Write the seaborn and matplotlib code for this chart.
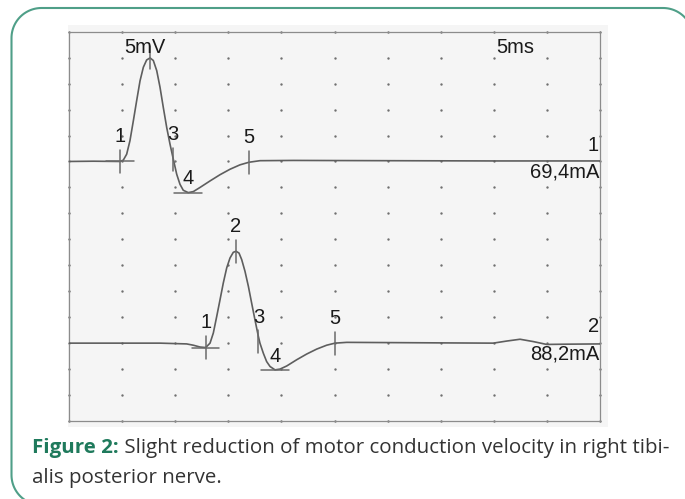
import numpy as np
import pandas as pd
import seaborn as sns
import matplotlib.pyplot as plt
from matplotlib.patches import Rectangle
from matplotlib.lines import Line2D
from matplotlib.transforms import IdentityTransform

# Trace 1 (69,4 mA): time in ms, amplitude in divisions (5 mV/div) from baseline
t1_ms = [0, 2.29, 4.80, 5.11, 5.43, 5.74, 6.06, 6.37, 6.69, 7.00, 7.31, 7.63, 7.94,
         8.26, 8.57, 8.88, 9.20, 9.51, 9.82, 10.14, 10.45, 10.76, 11.23, 11.71, 12.34,
         13.28, 14.22, 15.16, 16.10, 16.95, 17.98, 21.12, 30.0, 40.0, 50.0]
a1_div = [0, 0.01, 0, 0.05, 0.28, 0.80, 1.57, 2.34, 3.11, 3.63, 3.91, 3.99, 3.89,
          3.50, 2.86, 2.08, 1.31, 0.67, 0.09, -0.49, -0.88, -1.11, -1.20, -1.16, -1.00,
          -0.75, -0.51, -0.30, -0.13, -0.03, 0.03, 0.04, 0.03, 0.02, 0.02]

# Trace 2 (88,2 mA)
t2_ms = [0, 8.57, 11.08, 11.71, 12.34, 12.87, 13.28, 13.59, 13.91, 14.22, 14.53, 14.85,
         15.16, 15.47, 15.73, 16.01, 16.26, 16.57, 16.89, 17.20, 17.51, 17.83, 17.98,
         18.30, 18.61, 18.93, 19.40, 19.87, 20.50, 21.44, 22.38, 23.32, 24.26, 25.05,
         26.15, 34.93, 39.95, 41.21, 42.47, 43.72, 44.98, 46.86, 50.0]
a2_div = [0, 0, -0.03, -0.08, -0.15, -0.17, 0, 0.39, 1.03, 1.67, 2.32, 2.90,
          3.28, 3.50, 3.54, 3.47, 3.22, 2.77, 2.19, 1.54, 0.90, 0.26, 0,
          -0.39, -0.71, -0.90, -1.03, -1.00, -0.88, -0.64, -0.42, -0.23, -0.08, 0,
          0.03, 0.01, 0, 0.08, 0.15, 0.06, -0.05, -0.04, -0.03]

# cursor markers 1..5 (time ms, amplitude div)
m1_ms = [4.80, 7.63, 9.82, 11.23, 16.95]
m1_div = [0, 3.99, 0.09, -1.20, -0.03]
m2_ms = [12.87, 15.73, 17.83, 19.40, 25.05]
m2_div = [-0.17, 3.54, 0.05, -1.03, 0]
marker_labels1 = ['1', None, '3', '4', '5']
marker_labels2 = ['1', '2', '3', '4', '5']

baselines = [10, 3]
trace_ids = ['1', '2']
stim = ['69,4mA', '88,2mA']

caption_head = 'Figure 2:'
caption_line1 = ' Slight reduction of motor conduction velocity in right tibi-'
caption_line2 = 'alis posterior nerve.'

df = pd.concat([
    pd.DataFrame({'t': t1_ms, 'v': np.array(a1_div) + baselines[0], 'trace': '1'}),
    pd.DataFrame({'t': t2_ms, 'v': np.array(a2_div) + baselines[1], 'trace': '2'}),
])

sns.set_theme(style='white')
plt.rcParams['font.family'] = ['Liberation Sans', 'DejaVu Sans']

W, H = 685, 499
fig = plt.figure(figsize=(W / 100, H / 100), dpi=100)
fig.patch.set_facecolor('white')

# light grey panel behind the trace
fig.add_artist(Rectangle((68 / W, 1 - 427 / H), 540 / W, 402 / H,
                         transform=fig.transFigure, facecolor='#f5f5f5',
                         edgecolor='none', zorder=0))

ax = fig.add_axes([69 / W, 1 - 421 / H, 531 / W, 389.3 / H])
ax.patch.set_alpha(0)
ax.set_xlim(0, 50)
ax.set_ylim(0, 15)

# dot grid
gx, gy = np.meshgrid(np.arange(0, 51, 5), np.arange(0, 16, 1))
ax.scatter(gx.ravel(), gy.ravel(), s=3, color='#707070', linewidths=0, zorder=1,
           clip_on=False)

sns.lineplot(data=df, x='t', y='v', units='trace', estimator=None, color='#5e5e5e',
             linewidth=1.2, ax=ax, zorder=3)

mark_col = '#6a6a6a'
vh, hh = 0.44, 1.3
txt_kw = dict(fontsize=14.5, color='#1a1a1a', ha='center', va='center')
for ms, dv, labs, base in [(m1_ms, m1_div, marker_labels1, baselines[0]),
                           (m2_ms, m2_div, marker_labels2, baselines[1])]:
    for i, (x, d, lab) in enumerate(zip(ms, dv, labs)):
        y = base + d
        if i in (0, 1, 2, 4):
            ax.plot([x, x], [y - vh, y + vh], color=mark_col, lw=1.1, zorder=4)
        if i in (0, 3):
            ax.plot([x - hh, x + hh], [y, y], color=mark_col, lw=1.1, zorder=4)
        if lab is not None:
            dy = 0.53 if i == 3 else 0.95
            ax.text(x, y + dy, lab, zorder=5, **txt_kw)

ax.text(7.16, 14.38, '5mV', zorder=5, **txt_kw)
ax.text(42.0, 14.38, '5ms', zorder=5, **txt_kw)
for tid, lab, base in zip(trace_ids, stim, baselines):
    ax.text(49.9, base + 0.63, tid, zorder=5, **{**txt_kw, 'ha': 'right'})
    ax.text(49.9, base - 0.41, lab, zorder=5, **{**txt_kw, 'ha': 'right'})

ax.set_xticks([])
ax.set_yticks([])
ax.set_xlabel('')
ax.set_ylabel('')
for s in ax.spines.values():
    s.set_color('#8c8c8c')
    s.set_linewidth(0.9)

# rounded green frame, drawn as a path in pixels (right/bottom run off the picture)
# bottom-left arc -> left side -> top-left arc -> top -> top-right arc
L, T, B, R_top, r = 11.5, 8.0, 505.0, 663.0, 30.0
th = np.linspace(0, np.pi / 2, 30)
bl_x = L + r - r * np.cos(th[::-1]); bl_y = B - r + r * np.sin(th[::-1])
tl_x = L + r - r * np.cos(th);       tl_y = T + r - r * np.sin(th)
tr_x = R_top + r * np.sin(th);       tr_y = T + r - r * np.cos(th)
px = np.concatenate([bl_x, tl_x, tr_x])
py = np.concatenate([bl_y, tl_y, tr_y])
fig.add_artist(Line2D(px, H - py, transform=IdentityTransform(), color='#4f9f88',
                      linewidth=1.5, solid_capstyle='butt', zorder=10))

# caption, sized so that the first line spans the same width as the reference
cap_font = ['Open Sans', 'DejaVu Sans']
cap_size = 13.0
x0, y1, y2 = 32, 1 - 453.5 / H, 1 - 483.5 / H
t_head = fig.text(x0 / W, y1, caption_head, color='#1f7a5c', fontweight='bold',
                  fontsize=cap_size, family=cap_font, va='baseline')
t_body = fig.text(0, y1, caption_line1, color='#333333', fontsize=cap_size,
                  family=cap_font, va='baseline')
fig.canvas.draw()
rend = fig.canvas.get_renderer()
total = t_head.get_window_extent(rend).width + t_body.get_window_extent(rend).width
cap_size = cap_size * (664 - x0) / total
t_head.set_fontsize(cap_size)
t_body.set_fontsize(cap_size)
fig.canvas.draw()
t_body.set_x(t_head.get_window_extent(rend).x1 / W)
fig.text(x0 / W, y2, caption_line2, color='#333333', fontsize=cap_size,
         family=cap_font, va='baseline')

fig.savefig('out.png', dpi=100)
